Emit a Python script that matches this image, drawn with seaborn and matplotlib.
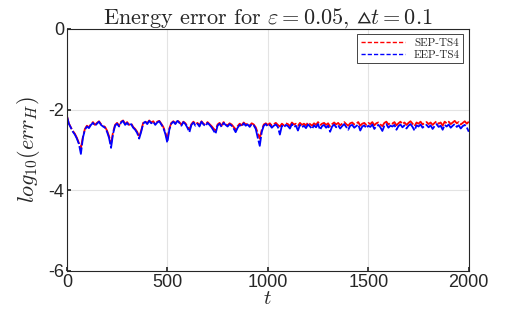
import numpy as np
import pandas as pd
import matplotlib
matplotlib.use('Agg')
import matplotlib.pyplot as plt
import seaborn as sns

# Donnees (t de 0 a 2000, pas de 10)
t = np.arange(0, 2001, 10)

eep_ts4 = [
    -2.15, -2.35, -2.45, -2.55, -2.62, -2.72, -2.85, -3.10, -2.70, -2.50,
    -2.42, -2.46, -2.38, -2.33, -2.40, -2.35, -2.30, -2.38, -2.42, -2.45,
    -2.55, -2.70, -2.95, -2.60, -2.40, -2.35, -2.42, -2.32, -2.28, -2.38,
    -2.33, -2.40, -2.36, -2.45, -2.50, -2.58, -2.72, -2.55, -2.35, -2.30,
    -2.36, -2.28, -2.34, -2.30, -2.38, -2.32, -2.29, -2.37, -2.45, -2.60,
    -2.82, -2.50, -2.35, -2.30, -2.36, -2.28, -2.33, -2.40, -2.31, -2.36,
    -2.45, -2.56, -2.38, -2.32, -2.40, -2.35, -2.42, -2.30, -2.37, -2.41,
    -2.33, -2.38, -2.44, -2.52, -2.60, -2.40, -2.35, -2.43, -2.33, -2.38,
    -2.42, -2.36, -2.40, -2.47, -2.56, -2.45, -2.38, -2.42, -2.34, -2.40,
    -2.37, -2.43, -2.36, -2.39, -2.48, -2.70, -2.90, -2.55, -2.40, -2.36,
    -2.42, -2.38, -2.45, -2.40, -2.37, -2.43, -2.62, -2.40, -2.44, -2.38,
    -2.41, -2.47, -2.36, -2.43, -2.40, -2.52, -2.38, -2.44, -2.40, -2.46,
    -2.37, -2.42, -2.48, -2.39, -2.44, -2.36, -2.50, -2.41, -2.38, -2.45,
    -2.40, -2.55, -2.42, -2.37, -2.44, -2.39, -2.47, -2.41, -2.36, -2.43,
    -2.50, -2.40, -2.38, -2.45, -2.41, -2.37, -2.52, -2.42, -2.39, -2.46,
    -2.40, -2.43, -2.37, -2.48, -2.41, -2.38, -2.44, -2.53, -2.40, -2.36,
    -2.45, -2.40, -2.42, -2.38, -2.50, -2.41, -2.37, -2.44, -2.39, -2.47,
    -2.40, -2.36, -2.43, -2.52, -2.39, -2.42, -2.37, -2.45, -2.40, -2.38,
    -2.44, -2.39, -2.48, -2.41, -2.36, -2.43, -2.40, -2.50, -2.38, -2.42,
    -2.37, -2.45, -2.40, -2.36, -2.43, -2.39, -2.47, -2.41, -2.38, -2.44,
    -2.55,
]

sep_ts4 = [
    -2.15, -2.34, -2.44, -2.53, -2.60, -2.70, -2.83, -2.95, -2.68, -2.48,
    -2.40, -2.44, -2.36, -2.31, -2.38, -2.33, -2.29, -2.36, -2.40, -2.43,
    -2.52, -2.66, -2.85, -2.56, -2.38, -2.33, -2.40, -2.30, -2.27, -2.36,
    -2.31, -2.38, -2.34, -2.43, -2.48, -2.55, -2.68, -2.52, -2.33, -2.29,
    -2.34, -2.27, -2.32, -2.29, -2.36, -2.30, -2.28, -2.35, -2.43, -2.56,
    -2.74, -2.47, -2.33, -2.29, -2.34, -2.27, -2.31, -2.38, -2.30, -2.34,
    -2.42, -2.50, -2.36, -2.30, -2.37, -2.33, -2.39, -2.29, -2.35, -2.38,
    -2.31, -2.36, -2.41, -2.47, -2.52, -2.37, -2.33, -2.40, -2.31, -2.36,
    -2.39, -2.34, -2.37, -2.43, -2.49, -2.41, -2.35, -2.39, -2.32, -2.37,
    -2.35, -2.40, -2.34, -2.37, -2.44, -2.58, -2.72, -2.50, -2.37, -2.34,
    -2.38, -2.34, -2.40, -2.36, -2.33, -2.38, -2.42, -2.35, -2.39, -2.34,
    -2.36, -2.41, -2.32, -2.37, -2.35, -2.40, -2.33, -2.38, -2.35, -2.39,
    -2.32, -2.36, -2.40, -2.34, -2.38, -2.31, -2.39, -2.35, -2.33, -2.38,
    -2.34, -2.42, -2.36, -2.32, -2.37, -2.33, -2.39, -2.35, -2.31, -2.36,
    -2.40, -2.34, -2.32, -2.37, -2.35, -2.31, -2.40, -2.35, -2.33, -2.38,
    -2.33, -2.36, -2.31, -2.39, -2.34, -2.32, -2.37, -2.41, -2.33, -2.30,
    -2.37, -2.33, -2.35, -2.31, -2.39, -2.34, -2.30, -2.36, -2.32, -2.38,
    -2.33, -2.29, -2.35, -2.41, -2.32, -2.35, -2.30, -2.37, -2.33, -2.31,
    -2.36, -2.32, -2.38, -2.33, -2.29, -2.35, -2.32, -2.40, -2.30, -2.34,
    -2.30, -2.36, -2.32, -2.28, -2.34, -2.31, -2.37, -2.33, -2.29, -2.35,
    -2.30,
]

x_ticks = [0, 500, 1000, 1500, 2000]
y_ticks = [-6, -4, -2, 0]

sns.set_theme(style='whitegrid')
plt.rcParams['font.family'] = ['Liberation Sans', 'DejaVu Sans']
plt.rcParams['mathtext.fontset'] = 'cm'
plt.rcParams['axes.unicode_minus'] = False

fig = plt.figure(figsize=(5.18, 3.11), dpi=100)
ax = fig.add_axes([0.129, 0.129, 0.776, 0.778])

sns.lineplot(x=t, y=sep_ts4, ax=ax, color='red', linestyle=(0, (8, 1.2)),
             linewidth=1.3, label='SEP-TS4')
sns.lineplot(x=t, y=eep_ts4, ax=ax, color='blue', linestyle=(0, (8, 1.2)),
             linewidth=1.3, label='EEP-TS4')

ax.set_xlim(0, 2000)
ax.set_ylim(-6, 0)
ax.set_xticks(x_ticks)
ax.set_yticks(y_ticks)
ax.tick_params(labelsize=13, colors='#262626', direction='in', length=3,
               left=True, bottom=True, pad=2)
ax.grid(True, color='#e3e3e3', linewidth=0.8)
for s in ax.spines.values():
    s.set_color('#262626')
    s.set_linewidth(0.8)

ax.set_title(r'Energy error for $\varepsilon = 0.05$, $\vartriangle t = 0.1$',
             fontsize=16, family='cmr10', pad=4)
ax.set_xlabel(r'$t$', fontsize=15, labelpad=-1)
ax.set_ylabel(r'$log_{10}(err_H)$', fontsize=16, labelpad=4)

leg = ax.legend(loc='upper right', fancybox=False, framealpha=1,
                edgecolor='#262626', prop={'family': 'cmr10', 'size': 8},
                handlelength=4, borderaxespad=0.5, borderpad=0.3,
                labelspacing=0.2)
leg.get_frame().set_linewidth(0.6)
for line in leg.get_lines():
    line.set_linestyle((0, (3, 1.5)))
    line.set_linewidth(1.0)

fig.savefig('out.png', dpi=100)
